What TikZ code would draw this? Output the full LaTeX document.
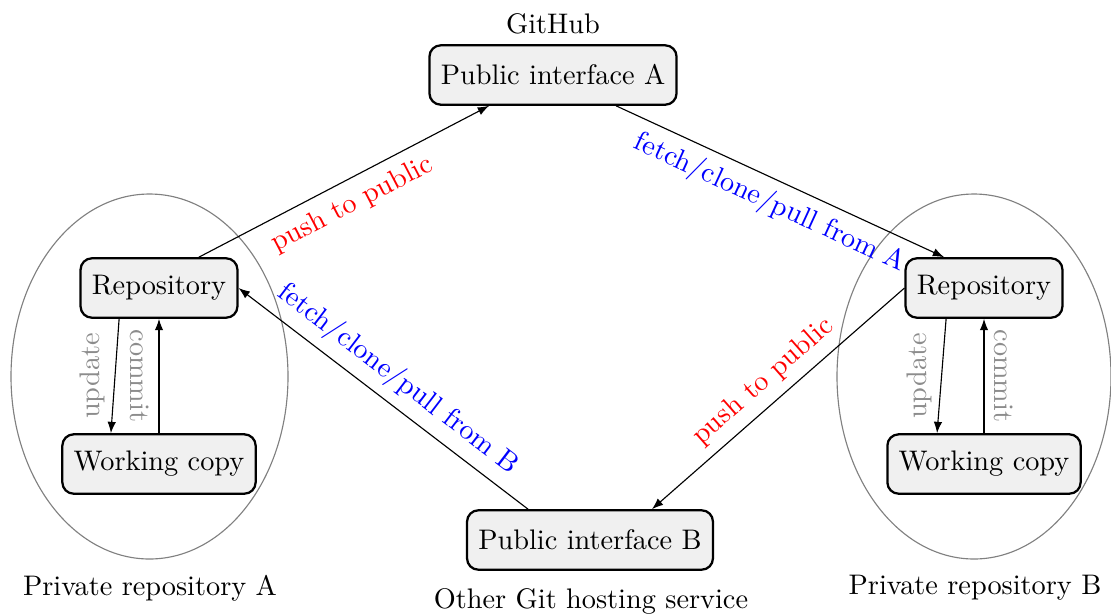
\documentclass[tikz,border=0pt]{standalone}
\usetikzlibrary{arrows.meta}
\begin{document}
\begin{tikzpicture}[x=0.3535pt,y=-0.3535pt,
  box/.style={draw, line width=0.8pt, rounded corners=4pt, fill=black!6,
    inner xsep=4pt, minimum height=21pt},
  link/.style={-{Latex[length=4pt,width=3pt]}, line width=0.4pt},
  ring/.style={draw=black!50, line width=0.4pt},
  pushlbl/.style={text=red, sloped},
  fetchlbl/.style={text=blue, sloped},
  locallbl/.style={text=black!45}]
\useasboundingbox (0,0) rectangle (1111,614);

% private repository A
\draw[ring] (149.5,376.5) ellipse [x radius=48.96pt, y radius=64.51pt];
\node[box] (repoA) at (159,288) {Repository};
\node[box] (workA) at (159,464) {Working copy};
\node (privA) at (150,588) {Private repository A};

% private repository B
\draw[ring] (974,376.5) ellipse [x radius=48.43pt, y radius=64.51pt];
\node[box] (repoB) at (984,288) {Repository};
\node[box] (workB) at (984,464) {Working copy};
\node (privB) at (975,588) {Private repository B};

% public interfaces
\node[box] (pubA) at (553,75) {Public interface A};
\node (github) at (553,24) {GitHub};
\node[box] (pubB) at (590,540) {Public interface B};
\node (other) at (591,601) {Other Git hosting service};

% exchanges through the public interfaces
\draw[link] ([xshift=14.1pt]repoA.north) -- ([xshift=-22.6pt]pubA.south)
  node[pushlbl, pos=0.49, below=0.6pt] {push to public};
\draw[link] ([xshift=22.3pt]pubA.south) -- ([xshift=-14.1pt]repoB.north)
  node[fetchlbl, midway, below] {fetch/clone/pull from A};
\draw[link] ([xshift=-21.9pt]pubB.north) -- (repoA.east)
  node[fetchlbl, midway, above] {fetch/clone/pull from B};
\draw[link] (repoB.west) -- ([xshift=21.9pt]pubB.north)
  node[pushlbl, midway, above] {push to public};

% local work in A
\draw[link] ([xshift=-14.1pt]repoA.south) -- ([xshift=-17pt]workA.north)
  node[locallbl, midway, rotate=90, anchor=south] {update};
\draw[link] (workA.north) -- (repoA.south)
  node[locallbl, midway, rotate=-90, anchor=north] {commit};

% local work in B
\draw[link] ([xshift=-13.4pt]repoB.south) -- ([xshift=-16.6pt]workB.north)
  node[locallbl, midway, rotate=90, anchor=south] {update};
\draw[link] (workB.north) -- (repoB.south)
  node[locallbl, midway, rotate=-90, anchor=south] {commit};
\end{tikzpicture}
\end{document}
